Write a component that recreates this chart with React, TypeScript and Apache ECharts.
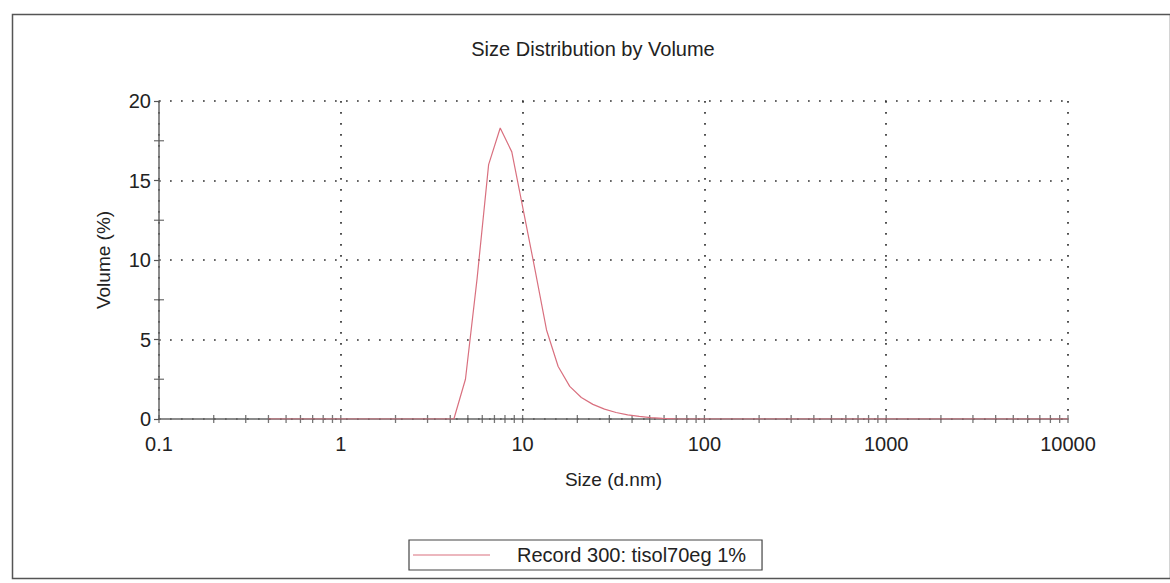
import React, { useEffect, useRef } from "react";
import * as echarts from "echarts";

// Particle size bins (d.nm) as reported by the instrument
const sizes = [
  0.4, 0.4632, 0.5365, 0.6213, 0.7195, 0.8332, 0.9649, 1.117, 1.294, 1.499,
  1.736, 2.01, 2.328, 2.696, 3.122, 3.615, 4.187, 4.849, 5.615, 6.503,
  7.531, 8.721, 10.1, 11.7, 13.54, 15.69, 18.17, 21.04, 24.36, 28.21,
  32.67, 37.84, 43.82, 50.75, 58.77, 68.06, 78.82, 91.28, 105.7, 122.4,
  141.8, 164.2, 190.1, 220.2, 255.0, 295.3, 342.0, 396.1, 458.7, 531.2,
  615.1, 712.4, 825.0, 955.4, 1106, 1281, 1484, 1718, 1990, 2305,
  2669, 3091, 3580, 4145, 4801, 5560, 6439, 7456, 8635, 10000,
];

// Volume (%) per bin
const volumes = [
  0, 0, 0, 0, 0, 0, 0, 0, 0, 0,
  0, 0, 0, 0, 0, 0, 0, 2.5, 8.8, 16.0,
  18.3, 16.8, 13.1, 9.4, 5.6, 3.3, 2.05, 1.35, 0.92, 0.62,
  0.41, 0.26, 0.16, 0.09, 0.04, 0.01, 0, 0, 0, 0,
  0, 0, 0, 0, 0, 0, 0, 0, 0, 0,
  0, 0, 0, 0, 0, 0, 0, 0, 0, 0,
  0, 0, 0, 0, 0, 0, 0, 0, 0, 0,
];

const seriesName = "Record 300: tisol70eg 1%";
const titleText = "Size Distribution by Volume";
const xAxisName = "Size (d.nm)";
const yAxisName = "Volume (%)";

// Axis tick positions
const xDecades = [0.1, 1, 10, 100, 1000, 10000];
const xMinorMultipliers = [2, 3, 4, 5, 6, 7, 8, 9];
const yMinorTicks = [2.5, 7.5, 12.5, 17.5];

const FONT = "'Liberation Sans', Arial, sans-serif";
const LINE_COLOR = "#d9707f";

export default function App() {
  const ref = useRef<HTMLDivElement>(null);

  useEffect(() => {
    if (!ref.current) return;
    const chart = echarts.init(ref.current, undefined, { renderer: "svg" });

    const xTickValues: number[] = [];
    xDecades.forEach((d, i) => {
      xTickValues.push(d);
      if (i < xDecades.length - 1) {
        xMinorMultipliers.forEach((m) => xTickValues.push(Number((m * d).toPrecision(6))));
      }
    });

    const fmt = (v: number) => String(Number(Number(v).toPrecision(6)));

    chart.setOption({
      animation: false,
      backgroundColor: "#ffffff",
      textStyle: { fontFamily: FONT },
      title: {
        text: titleText,
        left: 593,
        textAlign: "center",
        top: 39,
        padding: 0,
        textStyle: { fontFamily: FONT, fontSize: 20, fontWeight: "normal", color: "#222" },
      },
      legend: {
        data: [seriesName],
        left: 409,
        top: 540,
        orient: "horizontal",
        padding: [5, 16, 5, 4],
        borderColor: "#444",
        borderWidth: 1.2,
        icon: "rect",
        itemWidth: 77,
        itemHeight: 1.2,
        selectedMode: false,
        itemStyle: { color: LINE_COLOR },
        textStyle: { fontFamily: FONT, fontSize: 20, color: "#222", padding: [0, 0, 0, 22] },
      },
      grid: { left: 159, top: 101, width: 909, height: 318, containLabel: false },
      xAxis: {
        type: "log",
        logBase: 10,
        min: 0.1,
        max: 10000,
        name: xAxisName,
        nameLocation: "middle",
        nameGap: 51,
        nameTextStyle: { fontFamily: FONT, fontSize: 19, color: "#222" },
        axisLine: { show: true, lineStyle: { color: "#666", width: 1.5 } },
        axisTick: { show: false },
        axisLabel: { margin: 15, fontFamily: FONT, fontSize: 20, color: "#222", formatter: fmt },
        splitLine: { show: true, lineStyle: { color: "#333", width: 1.7, type: [1.7, 9.3] } },
      },
      yAxis: {
        type: "value",
        min: 0,
        max: 20,
        interval: 5,
        name: yAxisName,
        nameLocation: "middle",
        nameGap: 46,
        nameTextStyle: { fontFamily: FONT, fontSize: 19, color: "#222" },
        axisLine: { show: true, lineStyle: { color: "#666", width: 1.5 } },
        axisTick: { show: true, length: 5, lineStyle: { color: "#555", width: 1.2 } },
        axisLabel: { margin: 8, fontFamily: FONT, fontSize: 20, color: "#222" },
        splitLine: { show: true, lineStyle: { color: "#333", width: 1.7, type: [1.7, 9.3] } },
      },
      series: [
        {
          name: "xTicks",
          type: "scatter",
          silent: true,
          symbol: "rect",
          symbolSize: [1.3, 8],
          itemStyle: { color: "#555" },
          data: xTickValues.map((v) => [v, 0]),
          z: 3,
        },
        {
          name: "yTicks",
          type: "scatter",
          silent: true,
          symbol: "rect",
          symbolSize: [10, 1.3],
          itemStyle: { color: "#555" },
          data: yMinorTicks.map((v) => [0.1, v]),
          z: 3,
        },
        {
          name: seriesName,
          type: "line",
          symbol: "none",
          showSymbol: false,
          smooth: false,
          lineStyle: { color: LINE_COLOR, width: 1.2 },
          itemStyle: { color: LINE_COLOR },
          data: sizes.map((s, i) => [s, volumes[i]]),
          z: 5,
        },
      ],
      graphic: [
        {
          type: "rect",
          left: 10,
          top: 12,
          shape: { x: 0, y: 0, width: 1158, height: 564 },
          style: { fill: "none", stroke: "#555", lineWidth: 1.5 },
          silent: true,
        },
      ],
    });

    return () => chart.dispose();
  }, []);

  return (
    <div
      ref={ref}
      style={{ position: "fixed", left: 0, top: 0, width: 1170, height: 583, background: "#fff" }}
    />
  );
}
